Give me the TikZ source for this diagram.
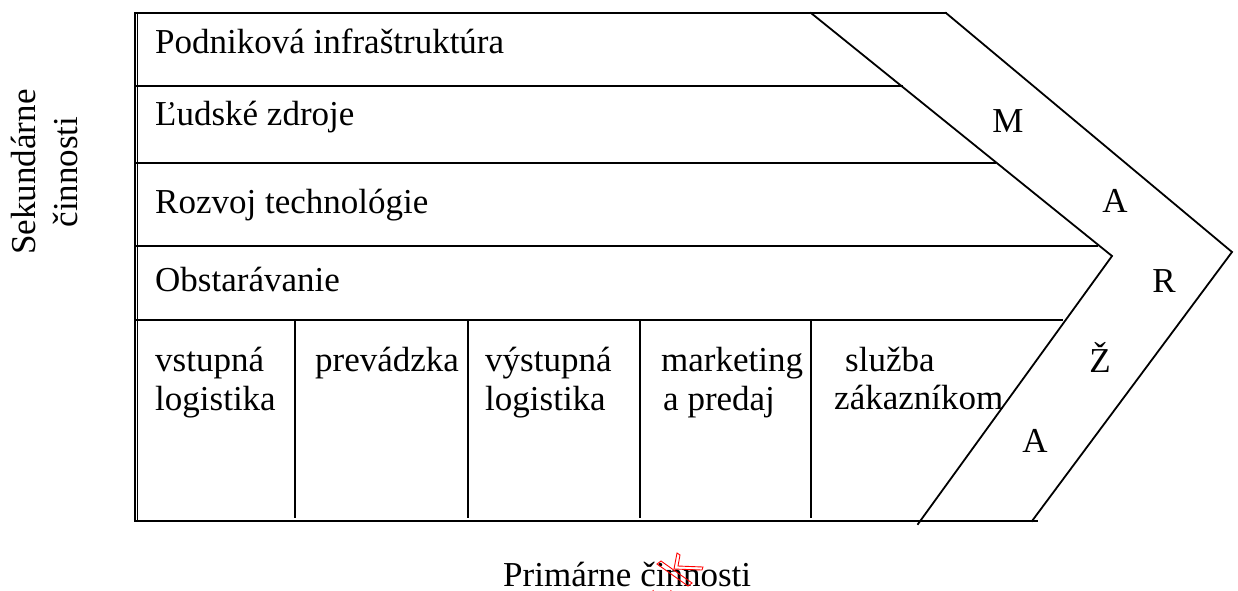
\documentclass[tikz,border=0pt]{standalone}
\usepackage{fontspec}
\setmainfont{Liberation Serif}
\begin{document}
\begin{tikzpicture}[x=1pt,y=-1pt,
  frame/.style={line width=1.8pt,line cap=rect},
  lbl/.style={inner sep=0pt,anchor=base west,font=\fontsize{35}{40}\selectfont},
  letter/.style={inner sep=0pt,anchor=base,font=\fontsize{35}{40}\selectfont},
  redink/.style={draw=red,line width=0.9pt}]
\useasboundingbox (0,0) rectangle (1238,590);

% frame corners
\coordinate (tl) at (135,13);
\coordinate (bl) at (135,521);
\coordinate (br) at (1037,521);
\coordinate (tr) at (946,13);
% chevron points
\coordinate (itop) at (811,13);
\coordinate (itip) at (1112,256);
\coordinate (ibot) at (918,524);
\coordinate (otip) at (1232,252);
\coordinate (obot) at (1032,521);

% outer frame
\draw[frame] (tr) -- (tl) -- (bl) -- (br);
\draw[line width=0.8pt] (137.5,13) -- (137.5,521);
% chevron
\draw[frame] (itop) -- (itip) -- (ibot);
\draw[frame] (tr) -- (otip) -- (obot);

% support activity rows
\draw[frame] (135,86) -- (902,86);
\draw[frame] (135,163) -- (995,163);
\draw[frame] (135,246) -- (1097,246);
\draw[frame] (135,320) -- (1062,320);

% primary activity columns
\foreach \x in {295,468,640,811}
  \draw[frame] (\x,320) -- (\x,517);

% row labels
\node[lbl] (inf) at (155,53) {Podniková infraštruktúra};
\node[lbl] (hr)  at (155,125) {Ľudské zdroje};
\node[lbl] (tech) at (155,213) {Rozvoj technológie};
\node[lbl] (proc) at (155,291) {Obstarávanie};

% column labels
\node[lbl] (c1a) at (155,371) {vstupná};
\node[lbl] (c1b) at (155,410) {logistika};
\node[lbl] (c2)  at (315,371) {prevádzka};
\node[lbl] (c3a) at (485,371) {výstupná};
\node[lbl] (c3b) at (485,410) {logistika};
\node[lbl] (c4a) at (661,371) {marketing};
\node[lbl] (c4b) at (663,410) {a predaj};
\node[lbl] (c5a) at (845,371) {služba};
\node[lbl] (c5b) at (834,409) {zákazníkom};

% margin letters
\node[letter] (m1) at (1008,132) {M};
\node[letter] (m2) at (1115,212) {A};
\node[letter] (m3) at (1164,292) {R};
\node[letter] (m4) at (1100,372) {Ž};
\node[letter] (m5) at (1035,452) {A};

% axis captions
\node[letter,rotate=90] (sek1) at (35,172) {Sekundárne};
\node[letter,rotate=90] (sek2) at (77,172) {činnosti};
\node[lbl] (prim) at (503,586) {Primárne činnosti};

% red proofing mark
\draw[redink] (657,564) -- (661,561) -- (692,583) -- (688,586) -- cycle;
\draw[redink] (677,553) -- (680,555) -- (678,566) -- (703,567) -- (702,570) -- (674,569) -- cycle;
\draw[redink] (653,590) arc[start angle=180,end angle=0,radius=9];
\end{tikzpicture}
\end{document}
